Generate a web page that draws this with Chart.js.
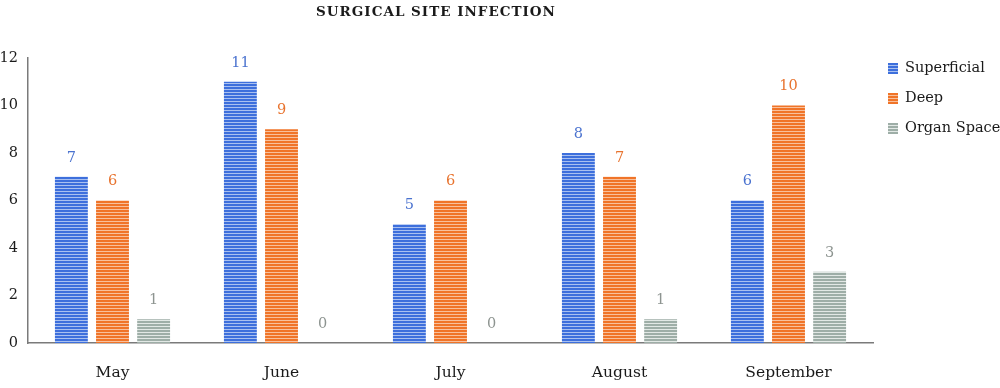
<!DOCTYPE html>
<html>
<head>
<meta charset="utf-8">
<script src="https://cdn.jsdelivr.net/npm/chart.js@4.4.0/dist/chart.umd.min.js"></script>
<style>
  html, body { margin: 0; padding: 0; background: #fff; }
  #wrap { width: 1000px; height: 388px; }
</style>
</head>
<body>
<div id="wrap"><canvas id="sitesChart" width="1000" height="388"></canvas></div>
<script>
var months = ["May", "June", "July", "August", "September"];
var superficial = [7, 11, 5, 8, 6];
var deep = [6, 9, 6, 7, 10];
var organSpace = [1, 0, 0, 1, 3];
var yTicks = [0, 2, 4, 6, 8, 10, 12];

var serif = "'DejaVu Serif', 'Liberation Serif', serif";

// striped fill like the original bars
function stripes(main, light){
    var c = document.createElement("canvas");
    c.width = 4; c.height = 3;
    var x = c.getContext("2d");
    x.fillStyle = main; x.fillRect(0, 0, 4, 2);
    x.fillStyle = light; x.fillRect(0, 2, 4, 1);
    return x.createPattern(c, "repeat");
}

var labelColors = ["#4a72cf", "#e8732e", "#8d9490"];

var valueLabels = {
    id: "valueLabels",
    afterDatasetsDraw: function(chart){
        var ctx = chart.ctx;
        ctx.save();
        ctx.font = "14.5px " + serif;
        ctx.textAlign = "center";
        ctx.textBaseline = "middle";
        chart.data.datasets.forEach(function(ds, i){
            chart.getDatasetMeta(i).data.forEach(function(bar, j){
                ctx.fillStyle = labelColors[i];
                ctx.fillText(ds.data[j], bar.x, bar.y - 19);
            });
        });
        ctx.restore();
    }
};

var titleAndLegend = {
    id: "titleAndLegend",
    afterDraw: function(chart){
        var ctx = chart.ctx;
        ctx.save();
        ctx.fillStyle = "#1a1a1a";
        ctx.font = "bold 13.5px " + serif;
        ctx.letterSpacing = "1px";
        ctx.textAlign = "center";
        ctx.textBaseline = "middle";
        ctx.fillText("SURGICAL SITE INFECTION", 436, 12);
        ctx.letterSpacing = "0px";
        ctx.font = "14.5px " + serif;
        ctx.textAlign = "left";
        chart.data.datasets.forEach(function(ds, i){
            var y = 68 + i * 30;
            ctx.fillStyle = ds.backgroundColor;
            ctx.fillRect(888, y - 5, 10, 11);
            ctx.fillStyle = "#1a1a1a";
            ctx.fillText(ds.label, 905, y);
        });
        ctx.restore();
    }
};

new Chart(document.getElementById("sitesChart"), {
    type: "bar",
    data: {
        labels: months,
        datasets: [
            { label: "Superficial", data: superficial, backgroundColor: stripes("#3d6fdc", "#a9c0f0") },
            { label: "Deep", data: deep, backgroundColor: stripes("#f07428", "#f8c09c") },
            { label: "Organ Space", data: organSpace, backgroundColor: stripes("#9eaea7", "#e2e8e5") }
        ]
    },
    options: {
        responsive: false,
        animation: false,
        layout: { padding: { top: 58, right: 127, left: 0, bottom: 0 } },
        datasets: { bar: { barPercentage: 0.8, categoryPercentage: 0.73 } },
        plugins: {
            legend: { display: false },
            title: { display: false },
            tooltip: { enabled: false }
        },
        scales: {
            x: {
                grid: { display: false },
                border: { color: "#7a7a7a", width: 1.5 },
                ticks: { color: "#1a1a1a", font: { family: serif, size: 15.5 }, padding: 13 },
                afterFit: function(s){ s.height = 45; }
            },
            y: {
                min: 0, max: 12,
                afterBuildTicks: function(s){ s.ticks = yTicks.map(function(v){ return { value: v }; }); },
                grid: { display: false, drawTicks: false },
                border: { color: "#7a7a7a", width: 1.5 },
                ticks: { color: "#1a1a1a", font: { family: serif, size: 14.5 }, padding: 10 },
                afterFit: function(s){ s.width = 28; }
            }
        }
    },
    plugins: [valueLabels, titleAndLegend]
});
</script>
</body>
</html>
